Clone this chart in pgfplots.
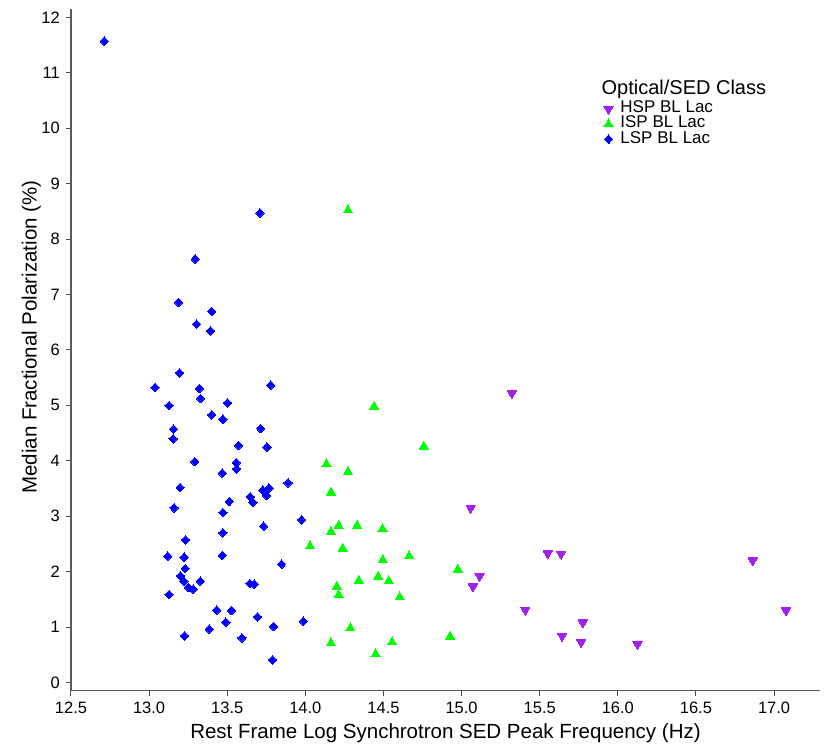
\documentclass[border=0pt]{standalone}
\usepackage{fontspec}
\setmainfont{Liberation Sans}
\usepackage{pgfplots}
\pgfplotsset{compat=1.18}
\definecolor{hsp}{RGB}{160,32,240}
\definecolor{isp}{RGB}{0,255,0}
\definecolor{lsp}{RGB}{0,0,255}
\pgfplotsset{
  myleg/.style={legend image code/.code={\path (-5pt,0pt) (5pt,0pt); \draw[##1] plot coordinates {(0pt,0pt)};}}
}
\begin{document}
\begin{tikzpicture}
\begin{axis}[
  scale only axis, width=749pt, height=681.4pt,
  xmin=12.5, xmax=17.294, ymin=-0.148, ymax=12.145,
  axis x line*=bottom, axis y line*=left,
  axis line style={black!65, line width=1.2pt},
  tick style={black!70, line width=1pt},
  tick align=outside, major tick length=5pt,
  xtick={12.5,13,13.5,14,14.5,15,15.5,16,16.5,17},
  ytick={0,1,2,3,4,5,6,7,8,9,10,11,12},
  minor tick num=0,
  xticklabel style={/pgf/number format/.cd, fixed, fixed zerofill, precision=1, assume math mode=true, /tikz/.cd, anchor=north, inner sep=0pt, yshift=-6pt},
  yticklabel style={/pgf/number format/.cd, assume math mode=true, /tikz/.cd, anchor=east, inner sep=0pt, xshift=-6pt},
  ticklabel style={font=\fontsize{16.5}{18}\selectfont},
  xlabel={Rest Frame Log Synchrotron SED Peak Frequency (Hz)},
  ylabel={Median Fractional Polarization (\%)},
  xlabel style={at={(axis description cs:0.5,0)}, anchor=base, yshift=-48pt, font=\fontsize{20.5}{22}\selectfont, inner sep=0pt},
  ylabel style={at={(axis description cs:-0.0458,0.519)}, anchor=base, font=\fontsize{20.5}{22}\selectfont, inner sep=0pt},
  legend style={at={(axis description cs:0.7107,0.8651)}, anchor=north west, draw=none, fill=none, inner sep=0pt, outer sep=0pt, row sep=0pt, column sep=6.7pt,
    nodes={inner sep=0pt, text height=11.5pt, text depth=3.7pt, font=\fontsize{17}{18}\selectfont}},
  legend cell align=left,
  clip=false,
]
\addplot[only marks, mark=triangle*, mark size=5.3pt, mark options={rotate=180, fill=hsp, draw=hsp, line width=0pt}, myleg] coordinates {
(15.322,5.22) (15.058,3.15) (15.551,2.33) (15.637,2.32) (15.115,1.92) (15.072,1.73)
(15.408,1.31) (15.776,1.08) (15.643,0.84) (15.765,0.73) (16.126,0.69) (16.863,2.20) (17.077,1.30)
};
\addlegendentry{HSP BL Lac}
\addplot[only marks, mark=triangle*, mark size=5.3pt, mark options={fill=isp, draw=isp, line width=0pt}, myleg] coordinates {
(14.273,8.52) (14.440,4.98) (14.758,4.26) (14.135,3.94) (14.273,3.80) (14.164,3.43)
(14.213,2.83) (14.331,2.83) (14.494,2.77) (14.164,2.72) (14.030,2.46) (14.239,2.42)
(14.496,2.21) (14.664,2.28) (14.976,2.04) (14.342,1.84) (14.466,1.91) (14.534,1.83)
(14.201,1.73) (14.213,1.58) (14.604,1.54) (14.288,0.98) (14.164,0.71) (14.555,0.73)
(14.449,0.51) (14.927,0.83)
};
\addlegendentry{ISP BL Lac}
\addplot[only marks, mark=diamond*, mark size=4.3pt, mark options={xscale=1.3, fill=lsp, draw=lsp, line width=0pt}, myleg] coordinates {
(12.713,11.57) (13.709,8.47) (13.295,7.64) (13.188,6.857) (13.401,6.694) (13.303,6.465)
(13.393,6.344) (13.194,5.586) (13.038,5.323) (13.322,5.305) (13.778,5.364) (13.329,5.124)
(13.128,4.998) (13.502,5.045) (13.401,4.829) (13.472,4.751) (13.156,4.571) (13.714,4.583)
(13.154,4.396) (13.572,4.276) (13.754,4.246) (13.292,3.985) (13.558,3.965) (13.56,3.854)
(13.468,3.777) (13.199,3.518) (13.889,3.602) (13.728,3.47) (13.767,3.506) (13.752,3.374)
(13.647,3.349) (13.664,3.253) (13.16,3.15) (13.513,3.266) (13.472,3.067) (13.976,2.934)
(13.733,2.82) (13.472,2.7) (13.233,2.573) (13.119,2.279) (13.224,2.261) (13.468,2.292)
(13.848,2.135) (13.231,2.057) (13.201,1.924) (13.224,1.822) (13.252,1.714) (13.282,1.683)
(13.327,1.828) (13.128,1.588) (13.645,1.786) (13.673,1.774) (13.433,1.305) (13.526,1.299)
(13.694,1.184) (13.491,1.088) (13.797,1.01) (13.987,1.106) (13.385,0.962) (13.226,0.841)
(13.594,0.805) (13.79,0.408)
};
\addlegendentry{LSP BL Lac}
\node[anchor=base west, inner sep=0pt, font=\fontsize{20}{22}\selectfont] at (axis cs:15.895,10.6) {Optical/SED Class};
\end{axis}
\pgfresetboundingbox
\path[use as bounding box] (-71pt,-64.3pt) rectangle (759pt,690.7pt);
\end{tikzpicture}
\end{document}
